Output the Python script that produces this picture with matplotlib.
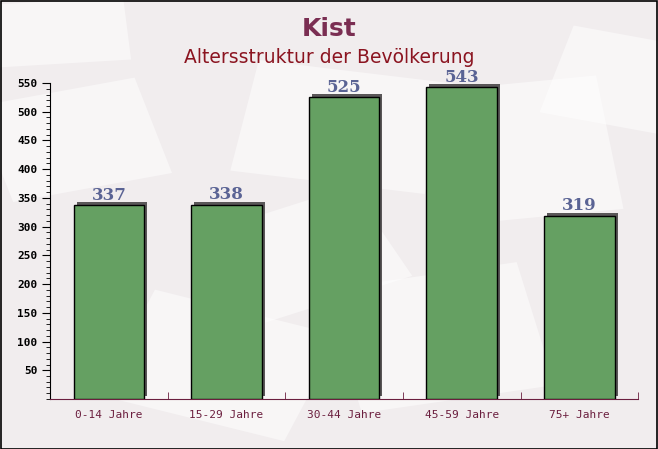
import matplotlib.pyplot as plt
import matplotlib.patches as mpatches
from matplotlib.transforms import ScaledTranslation
from matplotlib.ticker import MultipleLocator

# data
categories = ['0-14 Jahre', '15-29 Jahre', '30-44 Jahre', '45-59 Jahre', '75+ Jahre']
values = [337, 338, 525, 543, 319]
y_ticks = [50, 100, 150, 200, 250, 300, 350, 400, 450, 500, 550]

fig = plt.figure(figsize=(6.58, 4.49), dpi=100, facecolor='#f1edee')

# faint envelope-like background shapes, in an axes behind everything
bg_ax = fig.add_axes([0, 0, 1, 1], zorder=-1)
bg_ax.set_xlim(0, 1)
bg_ax.set_ylim(0, 1)
bg_ax.axis('off')
bg = [(0.02, 0.55, 0.25, 0.22, 15), (0.35, 0.62, 0.3, 0.25, -10), (0.7, 0.5, 0.25, 0.3, 8),
      (0.15, 0.12, 0.3, 0.25, -20), (0.55, 0.08, 0.3, 0.28, 12), (0.82, 0.75, 0.2, 0.2, -15),
      (0.4, 0.28, 0.25, 0.22, 25), (0.0, 0.85, 0.2, 0.14, 5)]
for x0, y0, w, h, a in bg:
    bg_ax.add_patch(mpatches.Rectangle((x0, y0), w, h, angle=a, facecolor='white',
                                       alpha=0.5, edgecolor='none'))
bg_ax.add_patch(mpatches.Rectangle((0.001, 0.001), 0.997, 0.996, fill=False,
                                   edgecolor='black', linewidth=1.2))

ax = fig.add_axes([0.076, 0.1114, 0.894, 0.7037])
ax.set_facecolor('none')

x = range(len(categories))
shadow = ScaledTranslation(3 / 100, 3 / 100, fig.dpi_scale_trans)
ax.bar(x, values, width=0.6, color='#5a5758', edgecolor='none',
       transform=ax.transData + shadow, zorder=2)
ax.bar(x, values, width=0.6, color='#65a062', edgecolor='black',
       linewidth=1.0, zorder=3)

for i, v in enumerate(values):
    ax.annotate(str(v), (i, v), xytext=(0, 1), textcoords='offset points',
                ha='center', va='bottom', fontsize=12, fontweight='bold',
                family='DejaVu Serif', color='#5a6394', zorder=4)

ax.set_xlim(-0.5, len(categories) - 0.5)
ax.set_ylim(0, 550)
ax.set_yticks(y_ticks)
ax.yaxis.set_minor_locator(MultipleLocator(10))
ax.set_xticks(list(x))
ax.set_xticklabels(categories, family='DejaVu Sans Mono', fontsize=8, color='#6b1e3e')
ax.set_xticks([i + 0.5 for i in x], minor=True)
ax.tick_params(axis='x', which='major', length=0, pad=8)
ax.tick_params(axis='x', which='minor', direction='in', length=5, color='#6b1e3e')
ax.tick_params(axis='y', which='major', length=6, color='black', pad=3)
ax.tick_params(axis='y', which='minor', length=3, color='black')
for lbl in ax.get_yticklabels():
    lbl.set_family('DejaVu Sans Mono')
    lbl.set_fontweight('bold')
    lbl.set_fontsize(8)

for s in ['top', 'right']:
    ax.spines[s].set_visible(False)
ax.spines['left'].set_color('black')
ax.spines['bottom'].set_color('#6b1e3e')

fig.text(0.5, 0.936, 'Kist', ha='center', va='center', fontsize=18,
         fontweight='bold', color='#7a2e52')
fig.text(0.5, 0.872, 'Altersstruktur der Bevölkerung', ha='center', va='center',
         fontsize=13.5, color='#8b1420')

fig.savefig('out.png', dpi=100, facecolor=fig.get_facecolor())
